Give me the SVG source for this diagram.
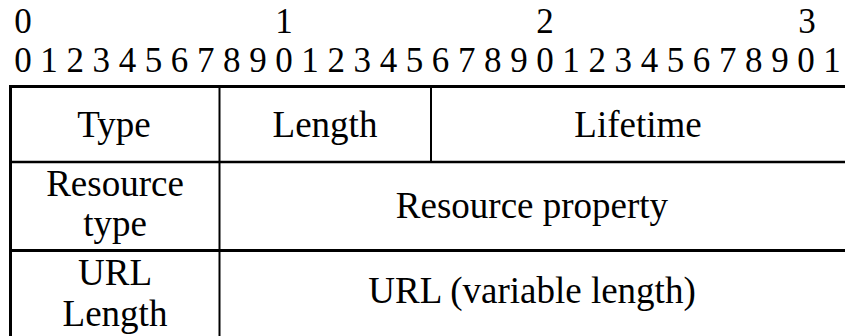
<svg xmlns="http://www.w3.org/2000/svg" width="845" height="336" viewBox="0 0 845 336">
<style>
.d{font-family:"Liberation Serif","Times New Roman",serif;font-size:35px;fill:#000;text-anchor:middle}
.t{font-family:"Liberation Serif","Times New Roman",serif;font-size:37px;fill:#000;text-anchor:middle}
.b{stroke:#000;fill:none}
</style>
<rect width="845" height="336" fill="#fff"/>
<g id="header">
<text class="d" x="23" y="33">0</text>
<text class="d" x="284" y="33">1</text>
<text class="d" x="545" y="33">2</text>
<text class="d" x="807" y="33">3</text>
<text class="d" y="72"><tspan x="23">0</tspan><tspan x="49.1">1</tspan><tspan x="75.2">2</tspan><tspan x="101.3">3</tspan><tspan x="127.4">4</tspan><tspan x="153.5">5</tspan><tspan x="179.6">6</tspan><tspan x="205.7">7</tspan><tspan x="231.8">8</tspan><tspan x="257.9">9</tspan><tspan x="284">0</tspan><tspan x="310.1">1</tspan><tspan x="336.2">2</tspan><tspan x="362.3">3</tspan><tspan x="388.4">4</tspan><tspan x="414.5">5</tspan><tspan x="440.6">6</tspan><tspan x="466.7">7</tspan><tspan x="492.8">8</tspan><tspan x="518.9">9</tspan><tspan x="545">0</tspan><tspan x="571.1">1</tspan><tspan x="597.2">2</tspan><tspan x="623.3">3</tspan><tspan x="649.4">4</tspan><tspan x="675.5">5</tspan><tspan x="701.6">6</tspan><tspan x="727.7">7</tspan><tspan x="753.8">8</tspan><tspan x="779.9">9</tspan><tspan x="806">0</tspan><tspan x="832.1">1</tspan></text>
</g>
<g id="connectors">
<line class="b" x1="9" y1="86.5" x2="845" y2="86.5" stroke-width="3"/>
<line class="b" x1="10.5" y1="85" x2="10.5" y2="336" stroke-width="3"/>
<line class="b" x1="10" y1="162" x2="845" y2="162" stroke-width="2.5"/>
<line class="b" x1="10" y1="250.5" x2="845" y2="250.5" stroke-width="3"/>
<line class="b" x1="219.5" y1="86" x2="219.5" y2="336" stroke-width="2"/>
<line class="b" x1="431" y1="86" x2="431" y2="162" stroke-width="2"/>
</g>
<g id="type"><text class="t" x="114" y="137">Type</text></g>
<g id="length"><text class="t" x="325" y="137">Length</text></g>
<g id="lifetime"><text class="t" x="638" y="137">Lifetime</text></g>
<g id="resource-type"><text class="t" x="115" y="196">Resource</text><text class="t" x="115" y="236">type</text></g>
<g id="resource-property"><text class="t" x="532" y="218">Resource property</text></g>
<g id="url-length"><text class="t" x="115" y="285">URL</text><text class="t" x="115" y="326">Length</text></g>
<g id="url"><text class="t" x="532" y="303">URL (variable length)</text></g>
</svg>
